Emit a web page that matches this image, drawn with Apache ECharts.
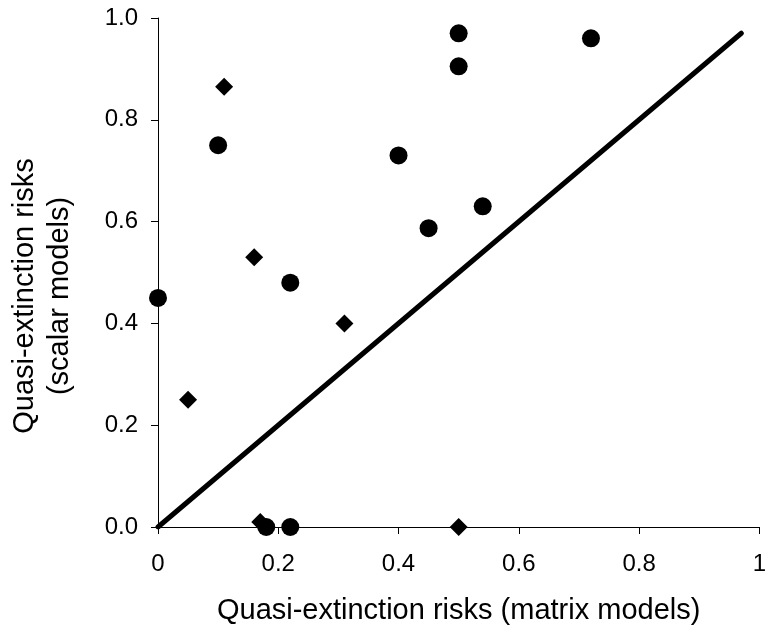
<!DOCTYPE html>
<html>
<head>
<meta charset="utf-8">
<script src="https://cdn.jsdelivr.net/npm/echarts@6/dist/echarts.min.js"></script>
<style>
  html, body { margin: 0; padding: 0; background: #fff; }
  #chart { width: 769px; height: 630px; }
</style>
</head>
<body>
<div id="chart"></div>
<script>
// circles
const circleX = [0, 0.1, 0.4, 0.5, 0.5, 0.72, 0.54, 0.45, 0.22, 0.18, 0.22];
const circleY = [0.45, 0.75, 0.73, 0.97, 0.905, 0.96, 0.63, 0.587, 0.48, 0, 0];
// diamonds
const diamondX = [0.11, 0.16, 0.31, 0.05, 0.17, 0.5];
const diamondY = [0.865, 0.53, 0.4, 0.25, 0.01, 0];
// 1:1 line
const lineX = [0, 0.97];
const lineY = [0, 0.97];

const xTicks = ['0', '0.2', '0.4', '0.6', '0.8', '1'];
const yTicks = ['0.0', '0.2', '0.4', '0.6', '0.8', '1.0'];

function pairs(xs, ys) {
  return xs.map((x, i) => [x, ys[i]]);
}

let chartDom = document.getElementById('chart');
let myChart = echarts.init(chartDom);
let font = 'Liberation Sans, Arial, sans-serif';

let option = {
  animation: false,
  grid: { left: 158, right: 7, top: 18, bottom: 101, containLabel: false },
  xAxis: {
    type: 'value',
    min: 0, max: 1, interval: 0.2,
    name: 'Quasi-extinction risks (matrix models)',
    nameLocation: 'middle',
    nameGap: 69,
    nameTextStyle: { fontFamily: font, fontSize: 29, color: '#000' },
    splitLine: { show: false },
    axisLine: { lineStyle: { color: '#000', width: 1 } },
    axisTick: { length: 7, lineStyle: { color: '#000' } },
    axisLabel: {
      margin: 25, fontFamily: font, fontSize: 24, color: '#000',
      formatter: v => xTicks[Math.round(v / 0.2)]
    }
  },
  yAxis: {
    type: 'value',
    min: 0, max: 1, interval: 0.2,
    splitLine: { show: false },
    axisLine: { show: true, lineStyle: { color: '#000', width: 1 } },
    axisTick: { show: true, length: 7, lineStyle: { color: '#000' } },
    axisLabel: {
      margin: 20, fontFamily: font, fontSize: 24, color: '#000',
      formatter: v => yTicks[Math.round(v / 0.2)]
    }
  },
  graphic: [{
    type: 'text',
    x: 42, y: 296,
    rotation: Math.PI / 2,
    style: {
      text: 'Quasi-extinction risks\n(scalar models)',
      fontFamily: font, fontSize: 29, fill: '#000',
      align: 'center', verticalAlign: 'middle', lineHeight: 35
    }
  }],
  series: [
    {
      type: 'line',
      data: pairs(lineX, lineY),
      symbol: 'none',
      lineStyle: { color: '#000', width: 5, cap: 'round' },
      z: 2
    },
    {
      type: 'scatter',
      data: pairs(circleX, circleY),
      symbol: 'circle',
      symbolSize: 18,
      itemStyle: { color: '#000', opacity: 1 },
      clip: false,
      z: 3
    },
    {
      type: 'scatter',
      data: pairs(diamondX, diamondY),
      symbol: 'diamond',
      symbolSize: 18,
      itemStyle: { color: '#000', opacity: 1 },
      clip: false,
      z: 3
    }
  ]
};

option && myChart.setOption(option);
</script>
</body>
</html>
